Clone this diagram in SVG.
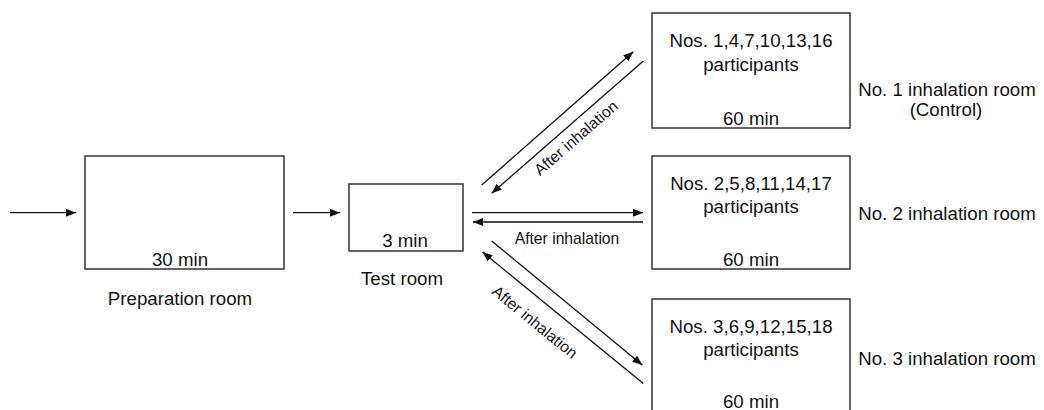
<svg xmlns="http://www.w3.org/2000/svg" width="1044" height="410" viewBox="0 0 1044 410">
<style>
.box{fill:#fff;stroke:#333;stroke-width:1.5}
.t{font-family:"Liberation Sans",Arial,sans-serif;font-size:18.7px;fill:#111;text-anchor:middle}
.s{font-family:"Liberation Sans",Arial,sans-serif;font-size:15.7px;fill:#111;text-anchor:middle}
.c{stroke:#111;stroke-width:1.3;fill:none;marker-end:url(#ah)}
</style>
<defs>
<marker id="ah" markerUnits="userSpaceOnUse" markerWidth="11" markerHeight="9" refX="10" refY="4" orient="auto">
<path d="M0,0 L10,4 L0,8 z" fill="#111"/>
</marker>
</defs>
<rect width="1044" height="410" fill="#fff"/>
<g id="prep">
<rect class="box" x="85" y="156" width="199" height="113"/>
<text class="t" x="180" y="266">30 min</text>
<text class="t" x="180" y="305">Preparation room</text>
</g>
<g id="test">
<rect class="box" x="349" y="184" width="114" height="67"/>
<text class="t" x="405" y="247">3 min</text>
<text class="t" x="402" y="285">Test room</text>
</g>
<g id="room1">
<rect class="box" x="652" y="13" width="198" height="115"/>
<text class="t" x="751" y="47">Nos. 1,4,7,10,13,16</text>
<text class="t" x="751" y="71">participants</text>
<text class="t" x="751" y="125">60 min</text>
<text class="t" x="947" y="96">No. 1 inhalation room</text>
<text class="t" x="946" y="116">(Control)</text>
</g>
<g id="room2">
<rect class="box" x="652" y="156" width="198" height="113"/>
<text class="t" x="751" y="190">Nos. 2,5,8,11,14,17</text>
<text class="t" x="751" y="213">participants</text>
<text class="t" x="751" y="266">60 min</text>
<text class="t" x="947" y="220">No. 2 inhalation room</text>
</g>
<g id="room3">
<rect class="box" x="652" y="299" width="198" height="115"/>
<text class="t" x="751" y="333">Nos. 3,6,9,12,15,18</text>
<text class="t" x="751" y="356">participants</text>
<text class="t" x="751" y="408">60 min</text>
<text class="t" x="947" y="365">No. 3 inhalation room</text>
</g>
<g id="connectors">
<line class="c" x1="10" y1="212.7" x2="76" y2="212.7"/>
<line class="c" x1="293" y1="212.7" x2="340" y2="212.7"/>
<line class="c" x1="472" y1="212.7" x2="643" y2="212.7"/>
<line class="c" x1="643" y1="222" x2="473" y2="222"/>
<line class="c" x1="481.7" y1="185" x2="633.3" y2="51.7"/>
<line class="c" x1="643.3" y1="61" x2="491.7" y2="193.3"/>
<line class="c" x1="491.7" y1="241" x2="642.3" y2="365"/>
<line class="c" x1="643.3" y1="383.5" x2="482.5" y2="252"/>
<text class="s" x="567" y="244">After inhalation</text>
<text class="s" transform="translate(579.5,142) rotate(-41)">After inhalation</text>
<text class="s" transform="translate(531.4,326.2) rotate(39.3)">After inhalation</text>
</g>
</svg>
